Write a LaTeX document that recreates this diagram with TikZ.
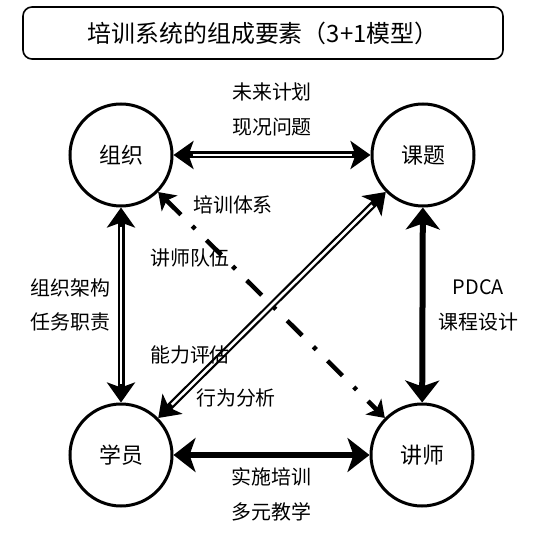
\documentclass[tikz,border=0pt]{standalone}
\usepackage{fontspec}
\newfontfamily\cjk{Noto Sans CJK SC}
\usetikzlibrary{arrows.meta}

\tikzset{
  ring/.style={circle, draw, line width=3bp, minimum size=102bp, inner sep=0pt, font=\cjk\fontsize{22}{26}\selectfont},
  lbl/.style={font=\cjk\fontsize{20}{35}\selectfont, align=center, inner sep=0pt},
  dbl/.style={line width=7bp, >={Stealth[length=20bp, width=28bp, inset=5bp]}, <->,
    postaction={draw=white, line width=2.6bp, arrows=-, shorten <=19bp, shorten >=19bp}},
  heavy/.style={line width=6bp, >={Stealth[length=22bp, width=34bp, inset=6bp]}, <->},
  dashdot/.style={line width=4.5bp, dash pattern=on 21bp off 16bp on 4bp off 16bp,
    >={Stealth[length=16bp, width=22bp, inset=4bp]}, <->}
}

\begin{document}
\begin{tikzpicture}[x=1bp, y=-1bp]
    \useasboundingbox (0,0) rectangle (545,533);

    \node[draw, line width=1.6bp, rounded corners=9bp, minimum width=480bp, minimum height=52bp,
      font=\cjk\fontsize{24}{28}\selectfont] (title) at (263,33) {培训系统的组成要素（3+1模型）};

    \node[ring] (zz) at (121,155) {组织};
    \node[ring] (kt) at (423,155) {课题};
    \node[ring] (xy) at (121,455) {学员};
    \node[ring] (js) at (422,455) {讲师};

    % 连线
    \draw[dbl] (zz) -- node[lbl, above=15bp] (lzk) {未来计划\\现况问题} (kt);
    \draw[dbl] (zz) -- node[lbl, left=7bp] (lzx) {组织架构\\任务职责} (xy);
    \draw[dbl] (xy) -- (kt);
    \draw[heavy] (kt) -- node[lbl, right=13bp] (lkj) {PDCA\\课程设计} (js);
    \draw[heavy] (xy) -- node[lbl, below=10bp] (lxj) {实施培训\\多元教学} (js);
    \draw[dashdot] (zz) -- (js);

    \node[lbl] (lpx) at (233,205) {培训体系};
    \node[lbl] (ljs) at (190,258) {讲师队伍};
    \node[lbl] (lnl) at (190,355) {能力评估};
    \node[lbl] (lxw) at (236,398) {行为分析};
\end{tikzpicture}
\end{document}
